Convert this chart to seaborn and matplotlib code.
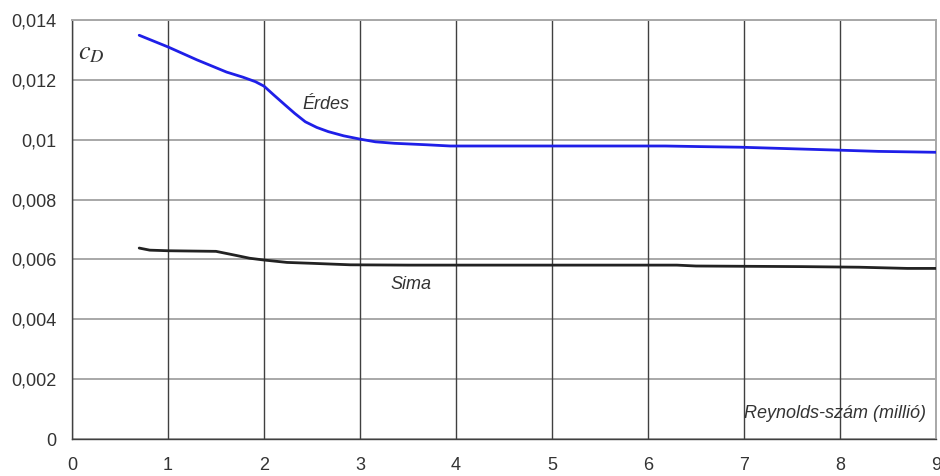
import matplotlib
matplotlib.use("Agg")
import matplotlib.pyplot as plt
import seaborn as sns
import pandas as pd
from matplotlib.ticker import FuncFormatter

# Data
erdes_x = [0.7, 1.0, 1.3, 1.61, 1.78, 1.91, 2.0, 2.1, 2.22, 2.32, 2.43, 2.55, 2.67, 2.83,
           3.0, 3.16, 3.36, 3.7, 3.94, 5.0, 6.18, 6.54, 6.96, 7.27, 7.58, 8.0, 8.4, 9.0]
erdes_y = [0.01349, 0.0131, 0.01267, 0.01226, 0.01209, 0.01194, 0.01179, 0.0115, 0.01116,
           0.01088, 0.0106, 0.01041, 0.01027, 0.01013, 0.01002, 0.00993, 0.00988, 0.00983,
           0.00979, 0.00979, 0.00979, 0.00977, 0.00975, 0.00972, 0.00969, 0.00965,
           0.00961, 0.00958]
sima_x = [0.7, 0.81, 1.0, 1.5, 1.7, 1.85, 2.0, 2.24, 2.5, 2.9, 3.5, 6.3, 6.5, 7.6, 8.2, 8.7, 9.0]
sima_y = [0.00638, 0.00631, 0.00629, 0.00627, 0.00614, 0.00604, 0.00598, 0.0059, 0.00587,
          0.00582, 0.00581, 0.00581, 0.00578, 0.00576, 0.00574, 0.0057, 0.0057]
x_ticks = [0, 1, 2, 3, 4, 5, 6, 7, 8, 9]
y_ticks = [0, 0.002, 0.004, 0.006, 0.008, 0.01, 0.012, 0.014]

sns.set_style("white")
plt.rcParams['font.family'] = ['Liberation Sans', 'DejaVu Sans']
plt.rcParams['mathtext.fontset'] = 'stix'

fig = plt.figure(figsize=(9.4, 4.76), dpi=100)
ax = fig.add_axes([72/940, 1 - 439/476, (936 - 72)/940, (439 - 20)/476])

df_e = pd.DataFrame({"x": erdes_x, "y": erdes_y})
df_s = pd.DataFrame({"x": sima_x, "y": sima_y})

ax.set_xlim(0, 9)
ax.set_ylim(0, 0.014)
ax.set_xticks(x_ticks)
ax.set_yticks(y_ticks)

# gridlines
for yt in y_ticks:
    ax.axhline(yt, color="#a8a8a8", lw=1.4, zorder=1)
for xt in x_ticks:
    ax.axvline(xt, color="#404040", lw=1.0, zorder=1)

sns.lineplot(data=df_s, x="x", y="y", ax=ax, color="#222222", lw=2.0, zorder=3)
sns.lineplot(data=df_e, x="x", y="y", ax=ax, color="#1f1fe8", lw=2.0, zorder=3)

def fmt(v, pos):
    if v == 0:
        return "0"
    s = ("%.3f" % v).rstrip("0")
    return s.replace(".", ",")

ax.yaxis.set_major_formatter(FuncFormatter(fmt))
ax.xaxis.set_major_formatter(FuncFormatter(lambda v, p: "%d" % v))

ax.tick_params(axis="both", direction="out", length=5, width=1, color="#404040",
               labelsize=13, labelcolor="#333333", pad=6)
ax.tick_params(axis="x", pad=8)
ax.set_xlabel("")
ax.set_ylabel("")

for side in ["left", "bottom"]:
    ax.spines[side].set_color("#404040")
    ax.spines[side].set_linewidth(1.0)
for side in ["top", "right"]:
    ax.spines[side].set_color("#a8a8a8")
    ax.spines[side].set_linewidth(1.4)

ax.text(2.64, 0.01118, "Érdes", fontsize=13, style="italic", color="#333333",
        ha="center", va="center")
ax.text(3.53, 0.00515, "Sima", fontsize=13, style="italic", color="#333333",
        ha="center", va="center")
ax.text(7.95, 0.00084, "Reynolds-szám (millió)", fontsize=13, style="italic",
        color="#333333", ha="center", va="center")
ax.text(0.2, 0.0129, r"$c_D$", fontsize=19, color="#333333", ha="center", va="center")

fig.savefig("out.png", dpi=100)
